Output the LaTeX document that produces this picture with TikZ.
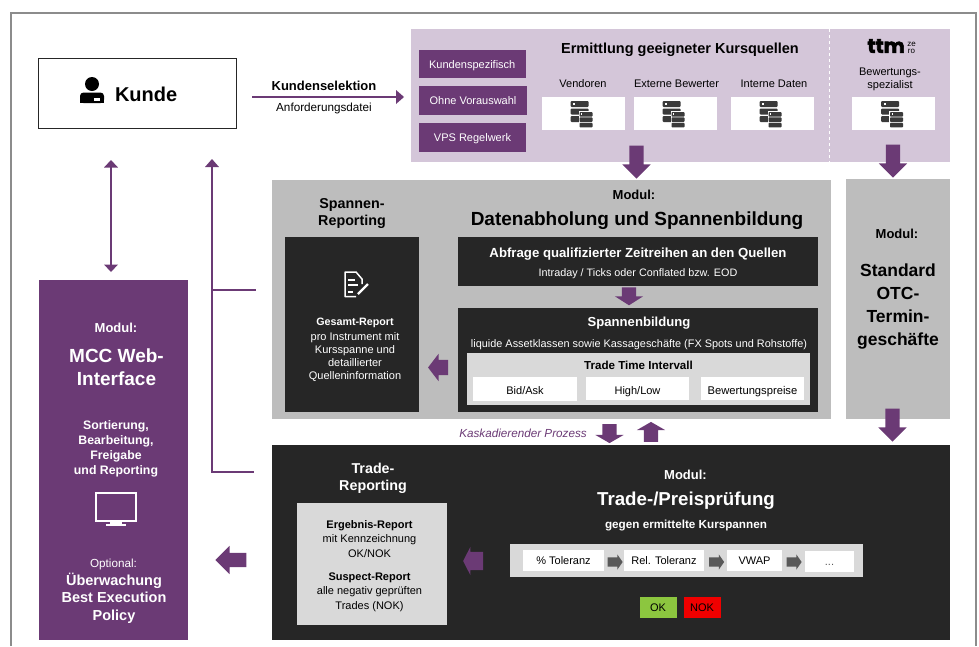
\documentclass[tikz,border=0pt]{standalone}
\usepackage{fontspec}
\setmainfont{Liberation Sans}
\newfontfamily\logofont{Poppins}[FakeBold=3]
\usetikzlibrary{shapes.arrows}
\definecolor{purp}{HTML}{6B3A75}
\definecolor{lilac}{HTML}{D4C6D9}
\definecolor{midgray}{HTML}{BDBDBD}
\definecolor{lightgray}{HTML}{D9D9D9}
\definecolor{ink}{HTML}{262626}
\definecolor{iconink}{HTML}{3A3A3A}
\definecolor{framegray}{HTML}{8C8C8C}
\definecolor{arrowgray}{HTML}{595959}
\definecolor{okgreen}{HTML}{8CC63F}
\definecolor{nokred}{HTML}{F00000}
\newcommand{\fsz}[1]{\fontsize{#1}{#1}\selectfont}
\tikzset{
  x=1pt,y=-1pt,
  panel/.style={inner sep=0,outer sep=0},
  txt/.style={inner sep=0,outer sep=0,align=center,text=black,font=\fsz{11},yshift=-1.5pt,
    execute at begin node=\vphantom{Hg},execute at end node=\vphantom{Hg}},
  wtxt/.style={txt,text=white,font=\fsz{11}},
  flowline/.style={draw=purp,line width=1.6pt},
  blockarrow/.style={single arrow,fill=purp,draw=none,inner sep=0,outer sep=0,
    single arrow head indent=0pt,single arrow tip angle=90,single arrow head extend=7pt},
  darr/.style={blockarrow,shape border rotate=270,inner xsep=7pt,inner ysep=0pt},
  uarr/.style={blockarrow,shape border rotate=90,inner xsep=7pt,inner ysep=0pt},
  larr/.style={blockarrow,shape border rotate=180,inner ysep=#1,inner xsep=0pt},
  rarr/.style={blockarrow,fill=arrowgray,inner ysep=4.5pt,inner xsep=0pt,
    minimum height=15,single arrow head extend=3pt,single arrow tip angle=110},
  server/.pic={
    \fill[iconink,rounded corners=1pt] (-12.5,-12) rectangle (5.5,-6);
    \fill[iconink,rounded corners=1pt] (-12.5,-4.5) rectangle (5.5,1.5);
    \fill[iconink,rounded corners=1pt] (-12.5,3) rectangle (5.5,9);
    \fill[white] (-10,-10) rectangle (-8,-8);
    \fill[white] (-4.5,-1.8) rectangle (10.3,15.3);
    \fill[iconink,rounded corners=.8pt] (-3.5,-1) rectangle (9.5,3.6);
    \fill[iconink,rounded corners=.8pt] (-3.5,4.4) rectangle (9.5,9);
    \fill[iconink,rounded corners=.8pt] (-3.5,9.8) rectangle (9.5,14.4);
    \fill[white] (-2,.4) rectangle (-.6,1.8);
  }
}
\begin{document}
\begin{tikzpicture}
\useasboundingbox (0,0) rectangle (979,646);
% frame
\draw[framegray,line width=2.5pt] (11,646) -- (11,13) -- (976,13) -- (976,646);
% Kunde
\node[panel,draw=ink,line width=1pt,fill=white,minimum width=198,minimum height=70] (kunde) at (137,93) {};
\node[txt,font=\fsz{20}\bfseries,anchor=west] (kundetxt) at (115,95) {Kunde};
\fill[black] (92,84) circle (7);
\fill[black,rounded corners=3.5pt] (80,103) -- (80,92.5) -- (104,92.5) -- (104,103) -- cycle;
\fill[black] (80,99) rectangle (104,102.5);
\fill[white] (94,98) rectangle (100,100.5);
% top panel
\node[panel,fill=lilac,minimum width=539,minimum height=133,anchor=north west] (quellen) at (411,29) {};
\draw[white,line width=1pt,dashed] (829,29) -- (829,162);
\node[panel,fill=purp,minimum width=107.5,minimum height=28,anchor=north west] (b1) at (418.5,50) {};
\node[panel,fill=purp,minimum width=108,minimum height=29,anchor=north west] (b2) at (419,86) {};
\node[panel,fill=purp,minimum width=107,minimum height=29,anchor=north west] (b3) at (419,123) {};
\node[wtxt] at (b1) {Kundenspezifisch};
\node[wtxt] at (b2) {Ohne Vorauswahl};
\node[wtxt] at (b3) {VPS Regelwerk};
\node[txt,font=\fsz{14.5}\bfseries] (ermtxt) at (680,48) {Ermittlung geeigneter Kursquellen};
\node[txt] (v) at (583,83) {Vendoren};
\node[txt] (e) at (676.5,83) {Externe Bewerter};
\node[txt] (i) at (774,83) {Interne Daten};
\node[panel,fill=white,minimum width=83,minimum height=33,anchor=north west] (s1) at (541.5,96.5) {};
\node[panel,fill=white,minimum width=83,minimum height=33,anchor=north west] (s2) at (633.5,96.5) {};
\node[panel,fill=white,minimum width=83,minimum height=33,anchor=north west] (s3) at (730.5,96.5) {};
\node[panel,fill=white,minimum width=83,minimum height=33,anchor=north west] (s4) at (852,96.5) {};
\pic at (s1) {server};
\pic at (s2) {server};
\pic at (s3) {server};
\pic at (s4) {server};
\node[inner sep=0,anchor=east,font=\logofont\fsz{20}\bfseries] (ttm) at (905,46) {ttm};
\node[inner sep=0,align=center,font=\fsz{8}] (zero) at (911.5,48) {ze\\[-1pt]ro};
\node[txt] (bew) at (890,77.5) {Bewertungs-\\[2pt]spezialist};
% Kundenselektion arrow
\coordinate (selstart) at (252,97);
\coordinate (selend) at (404,97);
\draw[flowline] (selstart) -- (397,97);
\fill[purp] (selend) -- (396,90) -- (396,104) -- cycle;
\node[txt,font=\fsz{13}\bfseries] (seltxt) at (324,86) {Kundenselektion};
\node[txt,font=\fsz{11.7}] (anf) at (324,107) {Anforderungsdatei};
% Mid panel
\node[panel,fill=midgray,minimum width=558.5,minimum height=239,anchor=north west] (mid) at (272,180) {};
\node[panel,fill=midgray,minimum width=104,minimum height=240,anchor=north west] (otc) at (846,179) {};
\node[darr,minimum height=33] (a1) at (636.5,158.5) {};
\node[darr,minimum height=33] (a2) at (893,157.5) {};
\node[darr,minimum height=33] (a3) at (892.5,421.5) {};
\node[txt,font=\fsz{13}\bfseries] (modm) at (634,195) {Modul:};
\node[txt,font=\fsz{19}\bfseries] (dat) at (637,219) {Datenabholung und Spannenbildung};
\node[txt,font=\fsz{14.3}\bfseries] (spr) at (352,212.5) {Spannen-\\[2.7pt]Reporting};
\node[panel,fill=ink,minimum width=134,minimum height=175,anchor=north west] (ges) at (285,237) {};
% document icon
\draw[white,line width=1.5pt,line join=round] (356,296.5) -- (345,296.5) -- (345,272) -- (356,272) -- (362,279) -- (362,284);
\draw[white,line width=1.1pt] (348,280) -- (355,280) (348,285) -- (358,285) (348,292) -- (353,292);
\draw[white,line width=2.4pt] (358,294) -- (368,284);
\node[wtxt,font=\fsz{10.7}\bfseries] (gr) at (355,321) {Gesamt-Report};
\node[wtxt,font=\fsz{11}] (grt) at (355,355.5) {pro Instrument mit\\[2.2pt]Kursspanne und\\[2.2pt]detaillierter\\[2.2pt]Quelleninformation};
\node[panel,fill=ink,minimum width=360,minimum height=48.5,anchor=north west] (abf) at (457.5,237) {};
\node[wtxt,font=\fsz{13.2}\bfseries] (abft) at (638,253) {Abfrage qualifizierter Zeitreihen an den Quellen};
\node[wtxt,font=\fsz{10.8}] (abfs) at (638,272) {Intraday / Ticks oder Conflated bzw. EOD};
\node[darr,minimum height=18,single arrow tip angle=115] (a4) at (629,294) {};
\node[panel,fill=ink,minimum width=360,minimum height=104,anchor=north west] (spb) at (457.5,308) {};
\node[wtxt,font=\fsz{13.1}\bfseries] (spbt) at (639,322) {Spannenbildung};
\node[wtxt,font=\fsz{10.9}] (spbs) at (639,343) {liquide Assetklassen sowie Kassageschäfte (FX Spots und Rohstoffe)};
\node[panel,fill=lightgray,minimum width=343,minimum height=52,anchor=north west] (tti) at (467,353) {};
\node[txt,font=\fsz{11.6}\bfseries] (ttit) at (638.5,365) {Trade Time Intervall};
\node[panel,fill=white,minimum width=104,minimum height=24,anchor=north west] (ba) at (473,377) {};
\node[panel,fill=white,minimum width=103,minimum height=23,anchor=north west] (hl) at (586,377) {};
\node[panel,fill=white,minimum width=103,minimum height=23,anchor=north west] (bp) at (701,377) {};
\node[txt] at (525,390) {Bid/Ask};
\node[txt] at (637.5,390) {High/Low};
\node[txt,font=\fsz{11.2}] at (752.5,390) {Bewertungspreise};
\node[larr=7.5pt,minimum height=20,single arrow head extend=6pt,single arrow tip angle=105] (a5) at (441,367.5) {};
% OTC text
\node[txt,font=\fsz{13}\bfseries] (otcm) at (897,234) {Modul:};
\node[txt,font=\fsz{17.5}\bfseries] (otct) at (898,305.5) {Standard\\[5.5pt]OTC-\\[5.5pt]Termin-\\[5.5pt]geschäfte};
% Cascade
\node[txt,text=purp,font=\fsz{11.7}\itshape] (kas) at (523,433) {Kaskadierender Prozess};
\node[darr,minimum height=19,single arrow tip angle=120] (a6) at (609.5,431.5) {};
\node[uarr,minimum height=20,single arrow tip angle=120] (a7) at (651,434) {};
% Bottom panel
\node[panel,fill=ink,minimum width=678,minimum height=195,anchor=north west] (trd) at (272,445) {};
\node[wtxt,font=\fsz{14.3}\bfseries] (trr) at (373,476.5) {Trade-\\[2.7pt]Reporting};
\node[panel,fill=lightgray,minimum width=150,minimum height=122,anchor=north west] (rep) at (297,503) {};
\node[txt,font=\fsz{11}\bfseries] (r1) at (369.5,524) {Ergebnis-Report};
\node[txt] (r2) at (369.5,545.5) {mit Kennzeichnung\\[3.5pt]OK/NOK};
\node[txt,font=\fsz{11}\bfseries] (r3) at (369.5,576) {Suspect-Report};
\node[txt] (r4) at (369.5,597.5) {alle negativ geprüften\\[3.5pt]Trades (NOK)};
\node[larr=9pt,minimum height=20,single arrow head extend=5pt,single arrow tip angle=126] (a8) at (475.5,561) {};
\node[wtxt,font=\fsz{13}\bfseries] (modt) at (685.5,475) {Modul:};
\node[wtxt,font=\fsz{18.7}\bfseries] (tpp) at (686,499) {Trade-/Preisprüfung};
\node[wtxt,font=\fsz{11.7}\bfseries] (geg) at (686,524) {gegen ermittelte Kurspannen};
\node[panel,fill=lightgray,minimum width=353,minimum height=33,anchor=north west] (strip) at (509.5,544) {};
\node[panel,fill=white,minimum width=81,minimum height=21,anchor=north west] (t1) at (523,549.5) {};
\node[panel,fill=white,minimum width=80,minimum height=21,anchor=north west] (t2) at (624,549.5) {};
\node[panel,fill=white,minimum width=55,minimum height=21,anchor=north west] (t3) at (727,550) {};
\node[panel,fill=white,minimum width=49,minimum height=21,anchor=north west] (t4) at (805,551) {};
\node[txt] at (t1) {\% Toleranz};
\node[txt] at (t2) {Rel. Toleranz};
\node[txt] at (t3) {VWAP};
\node[txt,text=arrowgray] at (t4) {...};
\node[rarr] (g1) at (613.5,562) {};
\node[rarr] (g2) at (715,562) {};
\node[rarr] (g3) at (792.5,562) {};
\node[panel,fill=okgreen,minimum width=37,minimum height=21,anchor=north west] (ok) at (639.5,596.5) {};
\node[panel,fill=nokred,minimum width=37,minimum height=21,anchor=north west] (nok) at (683.5,596.5) {};
\node[txt] at (ok) {OK};
\node[txt] at (nok) {NOK};
% MCC
\node[panel,fill=purp,minimum width=149,minimum height=360,anchor=north west] (mcc) at (39,280) {};
\node[wtxt,font=\fsz{13}\bfseries] (mccm) at (116,328) {Modul:};
\node[wtxt,font=\fsz{19}\bfseries] (mcct) at (116.5,367.5) {MCC Web-\\[4pt]Interface};
\node[wtxt,font=\fsz{12.3}\bfseries] (mccs) at (116,447.5) {Sortierung,\\[2.7pt]Bearbeitung,\\[2.7pt]Freigabe\\[2.7pt]und Reporting};
\draw[white,line width=2pt,line join=miter] (96,493) rectangle (136,521);
\fill[white] (110,521) rectangle (122,524);
\fill[white] (106,524) rectangle (126,526);
\node[wtxt,font=\fsz{11.7}] (opt) at (113.5,563) {Optional:};
\node[wtxt,font=\fsz{14.5}\bfseries] (ube) at (114,596.5) {Überwachung\\[3pt]Best Execution\\[3pt]Policy};
\node[larr=7pt,minimum height=31] (a9) at (234.5,560) {};
% connectors
\coordinate (dblt) at (111,160);
\coordinate (dblb) at (111,272);
\draw[flowline] (111,167) -- (111,265);
\fill[purp] (dblt) -- (104,167.5) -- (118,167.5) -- cycle;
\fill[purp] (dblb) -- (104,264.5) -- (118,264.5) -- cycle;
\coordinate (bust) at (212,159);
\coordinate (bub) at (212,472);
\coordinate (bum) at (212,290);
\coordinate (spanend) at (256,290);
\coordinate (trdend) at (254,472);
\draw[flowline,line join=miter] (bust |- 0,166) -- (bub) -- (trdend);
\draw[flowline] (bum) -- (spanend);
\fill[purp] (bust) -- (205,167) -- (219,167) -- cycle;
\end{tikzpicture}
\end{document}
